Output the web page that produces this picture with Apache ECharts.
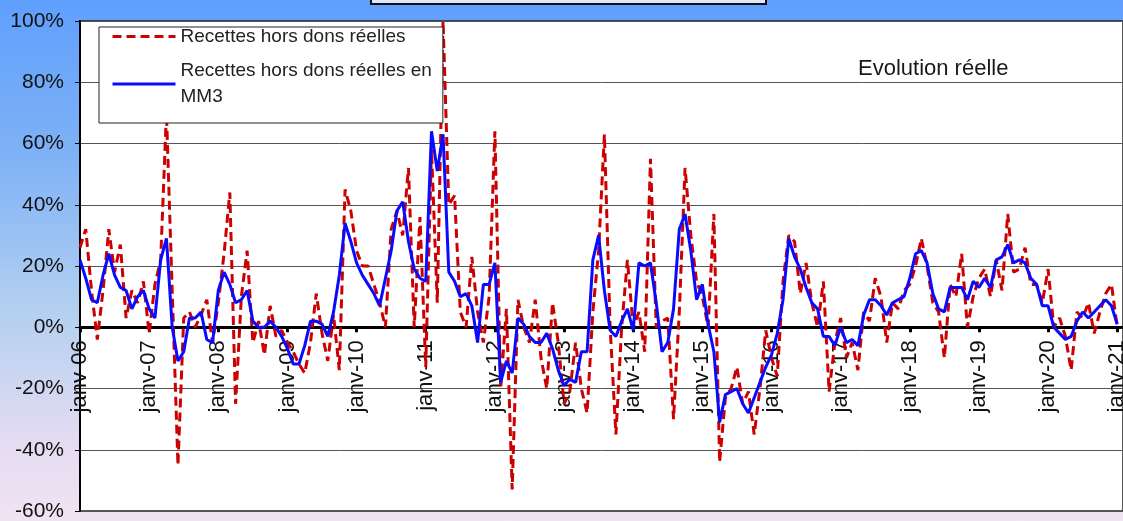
<!DOCTYPE html>
<html>
<head>
<meta charset="utf-8">
<title>Recettes hors dons réelles</title>
<script src="https://cdn.jsdelivr.net/npm/echarts@6/dist/echarts.min.js"></script>
<style>
  html, body {
    margin: 0;
    padding: 0;
    width: 1123px;
    height: 521px;
    overflow: hidden;
    background: linear-gradient(to bottom, #5f9ffd 0%, #7fb2f6 30%, #b4d0f0 60%, #e4dcf2 85%, #f0e3f3 100%);
  }
  #chart {
    width: 1123px;
    height: 521px;
  }
</style>
</head>
<body>
<div id="chart"></div>
<script>
// axe des x : un point par mois, de janv-06 a janv-21
const years = ['06', '07', '08', '09', '10', '11', '12', '13', '14', '15', '16', '17', '18', '19', '20', '21']
const monthNames = ['janv', 'févr', 'mars', 'avr', 'mai', 'juin', 'juil', 'août', 'sept', 'oct', 'nov', 'déc']

// graduations de l'axe des y (en %)
const yTicks = [-60, -40, -20, 0, 20, 40, 60, 80, 100]

// Recettes hors dons réelles (evolution mensuelle, %)
const recettes = [
  26, 32, 12, -4, 12, 32, 18, 27, 3, 12, 8, 15,
  -2, 14, 22, 70, 12, -45, 3, 5, 0, 4, 9, -5,
  8, 24, 44, -25, 10, 25, -5, 2, -9, 7, -3, -1,
  -5, -8, -12, -15, -5, 11, -2, -11, 4, -14, 45, 38,
  25, 20, 20, 14, 8, 0, 32, 38, 30, 52, 0, 36,
  -13, 58, 8, 100, 40, 43, 5, 0, 23, 5, -5, 10,
  64, -20, 6, -53, 9, 0, -5, 9, -10, -20, 8, -5,
  -25, -21, -5, -20, -28, 5, 25, 63, 0, -35, 0, 22,
  0, 5, -8, 55, 0, 2, 3, -30, 5, 52, 30, 15,
  10, 0, 37, -44, -23, -20, -13, -25, -21, -35, -20, -1,
  -10, -16, 15, 30, 28, 11, 21, 8, 0, 15, -21, -5,
  3, -10, -5, -14, 5, 2, 16, 10, -5, 8, 6, 12,
  14, 20, 29, 20, 8, 5, -10, 14, 10, 24, 0, 10,
  16, 19, 10, 22, 12, 37, 18, 19, 26, 14, 14, 8,
  19, 0, 3, -3, -14, 5, 3, 8, -2, 5, 11, 14,
  0
]

// Recettes hors dons réelles en MM3 (%)
const recettesMM3 = [
  22, 16, 9, 8, 17, 24, 17, 13, 12, 6, 10, 12,
  6, 3, 22, 29, 0, -11, -8, 3, 3, 5, -4, -5,
  12, 18, 14, 8, 9, 12, 2, 0, 0, 2, 0, -3,
  -7, -12, -12, -6, 2, 2, 1, -3, 5, 17, 34, 28,
  21, 17, 14, 11, 7, 16, 25, 38, 41, 28, 19, 16,
  15, 64, 51, 63, 18, 15, 10, 11, 7, -5, 14, 14,
  21, -18, -11, -15, 3, 1, -3, -5, -5, -2, -7, -14,
  -19, -17, -18, -8, -8, 22, 30, 12, -1, -3, 2, 6,
  -1, 21, 20, 21, 8, -8, -5, 6, 32, 37, 25, 9,
  14, 1, -8, -31, -22, -21, -20, -25, -28, -23, -18, -13,
  -9, -2, 9, 29, 23, 19, 13, 8, 6, -3, -3, -6,
  0, -5, -4, -6, 4, 9, 9, 7, 4, 8, 9, 10,
  16, 24, 25, 21, 11, 6, 5, 13, 13, 13, 9, 15,
  13, 16, 13, 22, 23, 27, 21, 22, 21, 16, 14, 7,
  7, 0, -2, -4, -3, 2, 5, 3, 5, 7, 9, 7,
  1
]

// categories : janv-06 ... janv-21 (+ un mois vide pour la marge de droite)
const categories = []
years.forEach(function (y, k) {
  monthNames.forEach(function (m) {
    if (k < years.length - 1 || m === 'janv' || m === 'févr') {
      categories.push(m + '-' + y)
    }
  })
})

const font = '"Liberation Sans", Arial, sans-serif'
const gridTop = 21
const gridBottom = 10
const gridHeight = 521 - gridTop - gridBottom
// l'axe des x est remonte sur la ligne du 0 %
const zeroOffset = -gridHeight * (0 - yTicks[0]) / (yTicks[yTicks.length - 1] - yTicks[0])

const chartObj = echarts.init(document.getElementById('chart'))

const option = {
  backgroundColor: 'transparent',
  animation: false,
  textStyle: { fontFamily: font },
  title: {
    text: 'Evolution réelle',
    left: 853,
    top: 53,
    z: 6,
    textStyle: { fontFamily: font, fontSize: 22, fontWeight: 'normal', color: '#1a1a1a' }
  },
  legend: {
    orient: 'vertical',
    left: 99,
    top: 27,
    z: 6,
    padding: [0, 11, 0, 12],
    itemWidth: 63,
    itemHeight: 14,
    itemGap: -1,
    backgroundColor: '#fff',
    borderColor: '#222',
    borderWidth: 1,
    textStyle: { fontFamily: font, fontSize: 19, color: '#222' },
    itemStyle: { opacity: 0 },
    lineStyle: { width: 3 },
    data: [
      { name: 'Recettes hors dons réelles', textStyle: { lineHeight: 14 } },
      { name: 'Recettes hors dons réelles en\nMM3', textStyle: { lineHeight: 26, padding: [26, 0, 0, 0] } }
    ]
  },
  graphic: [
    {
      type: 'rect',
      shape: { x: 371, y: -12, width: 395, height: 16 },
      style: { fill: '#dfe9fb', stroke: '#111', lineWidth: 2 }
    }
  ],
  grid: {
    left: 80,
    right: 0,
    top: gridTop,
    bottom: gridBottom,
    outerBoundsMode: 'none',
    containLabel: false,
    show: true,
    backgroundColor: '#fff',
    borderColor: '#222',
    borderWidth: 1.5
  },
  xAxis: {
    type: 'category',
    data: categories,
    boundaryGap: false,
    offset: zeroOffset,
    z: 1,
    axisLine: { onZero: false, lineStyle: { color: '#000', width: 3 } },
    axisTick: { show: true, interval: 11, length: 5, lineStyle: { color: '#000', width: 3 } },
    axisLabel: {
      interval: 11,
      rotate: 90,
      margin: 13,
      padding: [12, 0, 0, 0],
      fontFamily: font,
      fontSize: 22,
      color: '#111'
    },
    splitLine: { show: false }
  },
  yAxis: {
    type: 'value',
    min: yTicks[0],
    max: yTicks[yTicks.length - 1],
    interval: 20,
    z: 1,
    axisLine: { show: true, lineStyle: { color: '#000', width: 2 } },
    axisTick: { show: true, length: 5, lineStyle: { color: '#000', width: 1 } },
    axisLabel: {
      formatter: '{value}%',
      margin: 16,
      fontFamily: font,
      fontSize: 21,
      color: '#111'
    },
    splitLine: { lineStyle: { color: '#555', width: 1 } }
  },
  series: [
    {
      name: 'Recettes hors dons réelles',
      type: 'line',
      data: recettes,
      symbol: 'none',
      lineStyle: { color: '#cc0000', width: 3, type: [9, 5] },
      itemStyle: { color: '#cc0000' },
      z: 3
    },
    {
      name: 'Recettes hors dons réelles en\nMM3',
      type: 'line',
      data: recettesMM3,
      symbol: 'none',
      lineStyle: { color: '#0a0aff', width: 3 },
      itemStyle: { color: '#0a0aff' },
      z: 4
    }
  ]
}

chartObj.setOption(option)
</script>
</body>
</html>
